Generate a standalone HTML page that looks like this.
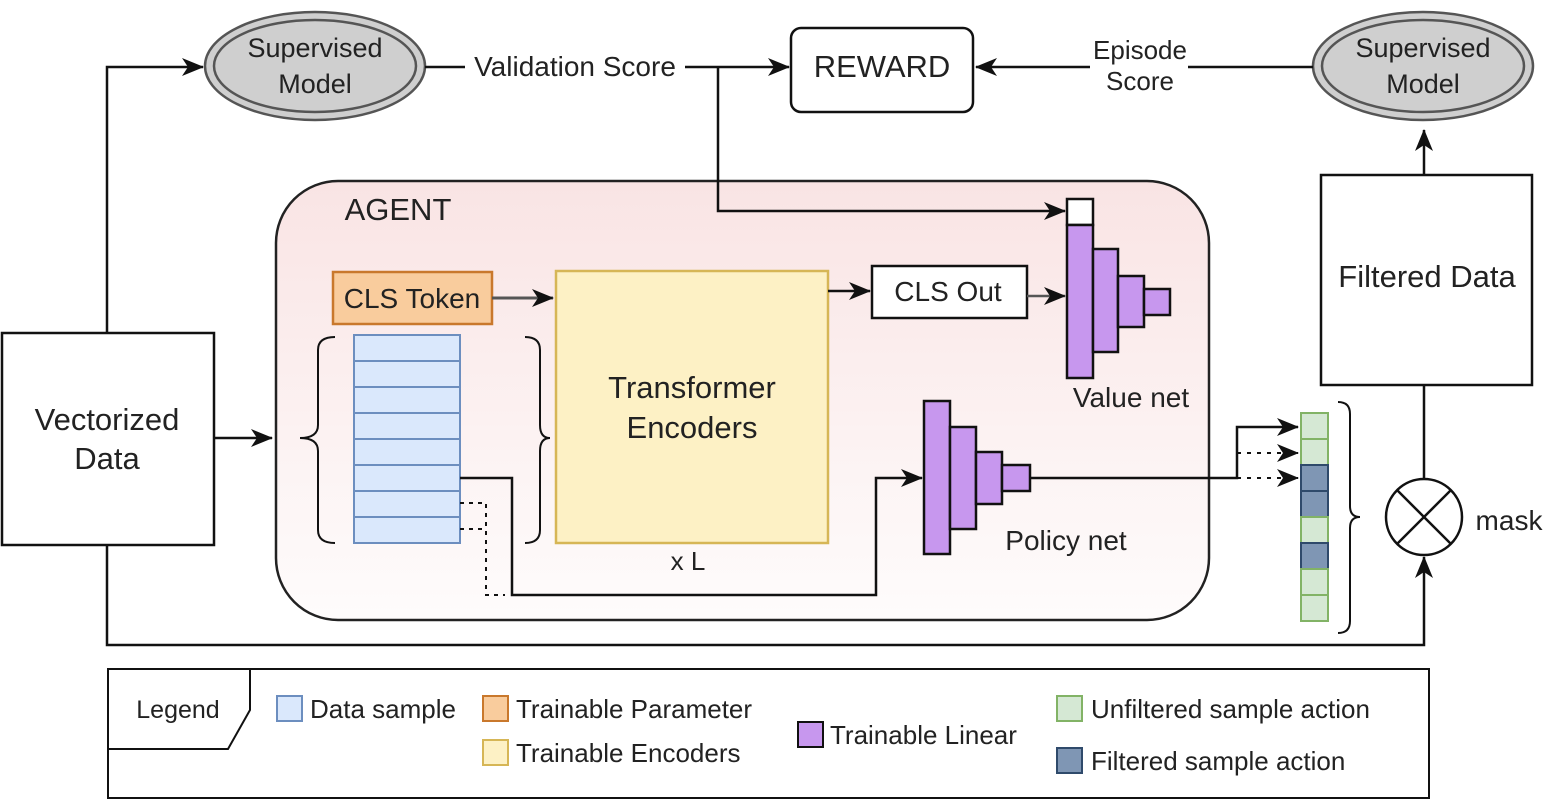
<!DOCTYPE html>
<html><head><meta charset="utf-8"><style>
html,body{margin:0;padding:0;background:#fff;}
svg{display:block;}
text{font-family:"Liberation Sans",sans-serif;fill:#222;}
</style></head><body>
<svg width="1544" height="800" viewBox="0 0 1544 800" xmlns="http://www.w3.org/2000/svg">
<defs>
<marker id="b" markerWidth="22" markerHeight="18" refX="21" refY="9" orient="auto" markerUnits="userSpaceOnUse"><path d="M0,0 L22,9 L0,18 L6,9 Z" fill="#111"/></marker>
<linearGradient id="g" x1="0" y1="0" x2="0" y2="1"><stop offset="0" stop-color="#f9e4e4"/><stop offset="1" stop-color="#fefcfc"/></linearGradient>
</defs>
<g stroke="#111" stroke-width="2.5" fill="none">
<rect x="276" y="181" width="933" height="439" rx="62" fill="url(#g)" stroke="#222" stroke-width="2.5"/>
<rect x="2" y="333" width="212" height="212" fill="#fff"/>
<polyline points="107,333 107,67 203,67" marker-end="url(#b)"/>
<line x1="214" y1="438" x2="272" y2="438" marker-end="url(#b)"/>
<polyline points="107,545 107,645 1424,645 1424,557" marker-end="url(#b)"/>
<ellipse cx="315" cy="66" rx="110" ry="54" fill="#cfcfcf" stroke="#555" stroke-width="2.5"/>
<ellipse cx="315" cy="66" rx="101" ry="46" fill="none" stroke="#555" stroke-width="2.5"/>
<ellipse cx="1423" cy="66" rx="110" ry="54" fill="#cfcfcf" stroke="#555" stroke-width="2.5"/>
<ellipse cx="1423" cy="66" rx="101" ry="46" fill="none" stroke="#555" stroke-width="2.5"/>
<line x1="425" y1="67" x2="789" y2="67" marker-end="url(#b)"/>
<polyline points="718,67 718,211 1065,211" marker-end="url(#b)"/>
<rect x="791" y="28" width="182" height="84" rx="10" fill="#fff"/>
<line x1="1313" y1="67" x2="976" y2="67" marker-end="url(#b)"/>
<rect x="1321" y="175" width="211" height="210" fill="#fff"/>
<line x1="1424" y1="175" x2="1424" y2="130" marker-end="url(#b)"/>
<line x1="1424" y1="385" x2="1424" y2="479"/>
<circle cx="1424" cy="517" r="38" fill="#fff"/>
<line x1="1397" y1="490" x2="1451" y2="544"/><line x1="1451" y1="490" x2="1397" y2="544"/>
<rect x="333" y="272" width="159" height="52" fill="#f9cc9d" stroke="#c9782c"/>
<line x1="492" y1="298" x2="553" y2="298" stroke="#555" stroke-width="3" marker-end="url(#b)"/>
<rect x="556" y="271" width="272" height="272" fill="#fdf1c5" stroke="#d6b656"/>
<line x1="828" y1="291" x2="870" y2="291" marker-end="url(#b)"/>
<rect x="872" y="266" width="155" height="52" fill="#fff"/>
<line x1="1027" y1="296" x2="1065" y2="296" stroke="#555" marker-end="url(#b)"/>
<rect x="1067" y="199" width="26" height="26" fill="#fff"/>
<rect x="1067" y="225" width="26" height="153" fill="#c797ee"/>
<rect x="1093" y="249" width="25" height="103" fill="#c797ee"/>
<rect x="1118" y="276" width="26" height="51" fill="#c797ee"/>
<rect x="1144" y="289" width="26" height="26" fill="#c797ee"/>
<rect x="924" y="401" width="26" height="153" fill="#c797ee"/>
<rect x="950" y="427" width="26" height="102" fill="#c797ee"/>
<rect x="976" y="452" width="26" height="52" fill="#c797ee"/>
<rect x="1002" y="465" width="28" height="26" fill="#c797ee"/>
<g fill="#dae8fc" stroke="#6c8ebf" stroke-width="2">
<rect x="354" y="335" width="106" height="26"/><rect x="354" y="361" width="106" height="26"/>
<rect x="354" y="387" width="106" height="26"/><rect x="354" y="413" width="106" height="26"/>
<rect x="354" y="439" width="106" height="26"/><rect x="354" y="465" width="106" height="26"/>
<rect x="354" y="491" width="106" height="26"/><rect x="354" y="517" width="106" height="26"/>
</g>
<path d="M335,337 Q318,337 318,350 L318,425 Q318,438 300,438 Q318,438 318,451 L318,530 Q318,543 335,543" stroke-width="2"/>
<path d="M525,337 Q540,337 540,350 L540,425 Q540,438 550,438 Q540,438 540,451 L540,530 Q540,543 525,543" stroke-width="2"/>
<polyline points="460,478 512,478 512,595 876,595 876,478 922,478" marker-end="url(#b)"/>
<polyline points="460,503 486,503 486,595 505,595" stroke-dasharray="4,5" stroke-width="2"/>
<line x1="460" y1="529" x2="486" y2="529" stroke-dasharray="4,5" stroke-width="2"/>
<polyline points="1030,478 1237,478 1237,427 1298,427" marker-end="url(#b)"/>
<line x1="1237" y1="453" x2="1298" y2="453" stroke-dasharray="4,6" stroke-width="2" marker-end="url(#b)"/>
<line x1="1237" y1="478" x2="1298" y2="478" stroke-dasharray="4,6" stroke-width="2" marker-end="url(#b)"/>
<g stroke-width="2">
<rect x="1301" y="413" width="27" height="26" fill="#d5e8d4" stroke="#82b366"/>
<rect x="1301" y="439" width="27" height="26" fill="#d5e8d4" stroke="#82b366"/>
<rect x="1301" y="465" width="27" height="26" fill="#7f96b4" stroke="#2f4a6b"/>
<rect x="1301" y="491" width="27" height="26" fill="#7f96b4" stroke="#2f4a6b"/>
<rect x="1301" y="517" width="27" height="26" fill="#d5e8d4" stroke="#82b366"/>
<rect x="1301" y="543" width="27" height="26" fill="#7f96b4" stroke="#2f4a6b"/>
<rect x="1301" y="569" width="27" height="26" fill="#d5e8d4" stroke="#82b366"/>
<rect x="1301" y="595" width="27" height="26" fill="#d5e8d4" stroke="#82b366"/>
</g>
<path d="M1338,402 Q1350,402 1350,414 L1350,506 Q1350,517 1360,517 Q1350,517 1350,528 L1350,621 Q1350,633 1338,633" stroke-width="2"/>
<rect x="108" y="669" width="1321" height="129" fill="#fff" stroke-width="2"/>
<polyline points="108,749 228,749 250,710 250,669" stroke-width="2"/>
<g stroke-width="2">
<rect x="277" y="696" width="25" height="25" fill="#dae8fc" stroke="#6c8ebf"/>
<rect x="483" y="696" width="25" height="25" fill="#f9cc9d" stroke="#c9782c"/>
<rect x="483" y="740" width="25" height="25" fill="#fdf1c5" stroke="#d6b656"/>
<rect x="798" y="722" width="25" height="25" fill="#c797ee" stroke="#111"/>
<rect x="1057" y="696" width="25" height="25" fill="#d5e8d4" stroke="#82b366"/>
<rect x="1057" y="748" width="25" height="25" fill="#7f96b4" stroke="#2f4a6b"/>
</g>
</g>
<rect x="465" y="50" width="220" height="34" fill="#fff"/>
<rect x="1090" y="38" width="98" height="60" fill="#fff"/>
<g font-size="27" text-anchor="middle">
<text x="315" y="57">Supervised</text><text x="315" y="93">Model</text>
<text x="1423" y="57">Supervised</text><text x="1423" y="93">Model</text>
<text x="575" y="76" font-size="28">Validation Score</text>
<text x="882" y="77" font-size="31">REWARD</text>
<text x="1140" y="59" font-size="26">Episode</text><text x="1140" y="90" font-size="26">Score</text>
<text x="1427" y="287" font-size="31">Filtered Data</text>
<text x="107" y="430" font-size="31">Vectorized</text><text x="107" y="469" font-size="31">Data</text>
<text x="398" y="220" font-size="31">AGENT</text>
<text x="412" y="308" font-size="28">CLS Token</text>
<text x="692" y="398" font-size="31">Transformer</text><text x="692" y="438" font-size="31">Encoders</text>
<text x="948" y="301" font-size="28">CLS Out</text>
<text x="1131" y="407" font-size="28">Value net</text>
<text x="1066" y="550" font-size="28">Policy net</text>
<text x="688" y="570" font-size="26">x L</text>
<text x="1509" y="530" font-size="28">mask</text>
<text x="178" y="718" font-size="25">Legend</text>
</g>
<g font-size="26">
<text x="310" y="718">Data sample</text>
<text x="516" y="718">Trainable Parameter</text>
<text x="516" y="762">Trainable Encoders</text>
<text x="830" y="744">Trainable Linear</text>
<text x="1091" y="718">Unfiltered sample action</text>
<text x="1091" y="770">Filtered sample action</text>
</g>
</svg>
</body></html>
